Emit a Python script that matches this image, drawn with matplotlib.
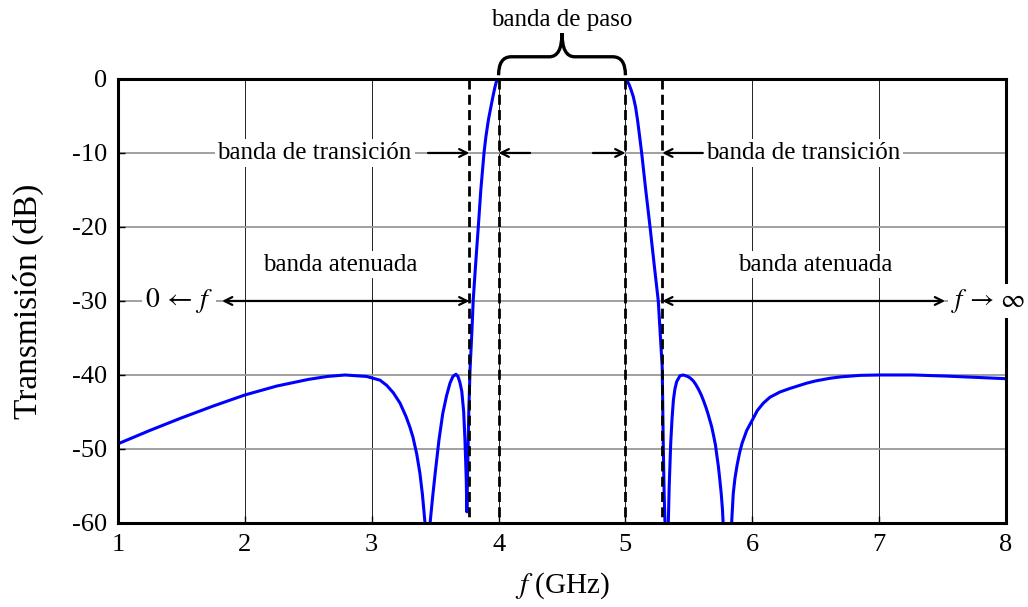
import numpy as np
import matplotlib
matplotlib.use('Agg')
import matplotlib.pyplot as plt
from matplotlib.path import Path
from matplotlib.patches import PathPatch

plt.rcParams['font.family'] = ['Liberation Serif', 'DejaVu Serif']
plt.rcParams['mathtext.fontset'] = 'stix'
plt.rcParams['axes.unicode_minus'] = False

# transmission curve (GHz, dB)
freq = [1.0, 1.25, 1.5, 1.75, 2.0, 2.25, 2.5, 2.65, 2.79, 2.96, 3.065, 3.118,
        3.17, 3.223, 3.27, 3.30, 3.325, 3.355, 3.38, 3.40, 3.42, 3.44, 3.46,
        3.48, 3.50, 3.53, 3.56, 3.59, 3.617, 3.64, 3.664, 3.68, 3.695, 3.71,
        3.725, 3.735, 3.745, 3.75, 3.755, 3.765, 3.775, 3.79, 3.80, 3.82, 3.84,
        3.86, 3.885, 3.90, 3.92, 3.946, 3.96, 3.97, 3.98, 3.99, 4.0, 4.5, 5.0,
        5.015, 5.03, 5.045, 5.062, 5.08, 5.095, 5.11, 5.128, 5.16, 5.194, 5.226,
        5.259, 5.29, 5.294, 5.298, 5.305, 5.312, 5.325, 5.338, 5.345, 5.357,
        5.367, 5.378, 5.39, 5.404, 5.43, 5.456, 5.49, 5.51, 5.535, 5.555, 5.575,
        5.595, 5.614, 5.635, 5.65, 5.665, 5.68, 5.695, 5.71, 5.72, 5.733, 5.745,
        5.755, 5.765, 5.77, 5.80, 5.837, 5.85, 5.863, 5.88, 5.90, 5.92, 5.956,
        6.0, 6.04, 6.087, 6.14, 6.218, 6.3, 6.43, 6.5, 6.61, 6.7, 6.85, 7.0,
        7.27, 7.53, 7.8, 8.0]
trans = [-49.3, -47.5, -45.8, -44.2, -42.7, -41.5, -40.6, -40.2, -40.0, -40.2,
         -40.7, -41.4, -42.4, -43.8, -45.6, -47.0, -48.4, -50.7, -53.3, -56.2,
         -60.0, -75.0, -60.0, -56.5, -53.3, -48.8, -45.2, -42.8, -41.1, -40.2,
         -39.9, -40.2, -41.0, -42.2, -45.0, -48.8, -54.0, -58.5, -54.0, -45.0,
         -39.3, -34.0, -29.9, -24.8, -20.0, -15.0, -10.0, -7.8, -5.5, -3.2,
         -2.0, -1.2, -0.5, -0.1, 0.0, 0.0, 0.0, -0.3, -0.8, -1.5, -2.4, -3.8,
         -5.5, -7.5, -10.0, -15.0, -20.0, -25.0, -30.0, -39.0, -44.0, -49.2,
         -56.0, -60.0, -72.0, -60.0, -55.0, -49.2, -46.0, -43.4, -41.9, -40.9,
         -40.1, -40.0, -40.2, -40.4, -40.8, -41.3, -41.9, -42.6, -43.4, -44.4,
         -45.2, -46.1, -47.0, -48.2, -49.5, -50.8, -52.4, -54.3, -56.0, -58.2,
         -60.0, -75.0, -60.0, -56.0, -54.0, -52.2, -50.5, -49.2, -47.5, -46.1,
         -44.8, -43.8, -43.0, -42.3, -41.8, -41.1, -40.8, -40.45, -40.25,
         -40.05, -40.0, -40.0, -40.15, -40.35, -40.5]

# band edges (GHz)
f_stop_lo, f_pass_lo, f_pass_hi, f_stop_hi = 3.77, 4.0, 5.0, 5.29

xticks = [1, 2, 3, 4, 5, 6, 7, 8]
yticks = [0, -10, -20, -30, -40, -50, -60]

fig = plt.figure(figsize=(10.28, 6.07), dpi=100)
ax = fig.add_axes([0.1148, 0.1384, 0.8638, 0.7315])

ax.set_xlim(1, 8)
ax.set_ylim(-60, 0)
ax.set_xticks(xticks)
ax.set_yticks(yticks)
ax.tick_params(direction='in', labelsize=19, length=5, width=1, pad=8)
for s in ax.spines.values():
    s.set_linewidth(2.2)
    s.set_zorder(4)

for x in xticks[1:-1]:
    ax.axvline(x, color='#222222', lw=0.7, zorder=0)
for y in yticks[1:-1]:
    ax.axhline(y, color='#999999', lw=1.3, zorder=0)

ax.plot(freq, trans, color='#0000ff', lw=2.2, zorder=3)

for fx in [f_stop_lo, f_pass_lo, f_pass_hi, f_stop_hi]:
    ax.plot([fx, fx], [0, -60], color='black', lw=2.0, dashes=(3.6, 1.9), zorder=3)

ax.set_xlabel('$f$ (GHz)', fontsize=21, labelpad=10)
ax.set_ylabel('Transmisión (dB)', fontsize=24, labelpad=20)

box = dict(facecolor='white', edgecolor='none', pad=2)
arr = dict(arrowstyle='->', lw=1.6, color='black', shrinkA=0, shrinkB=0,
           mutation_scale=14)
darr = dict(arrowstyle='<->', lw=1.6, color='black', shrinkA=0, shrinkB=0,
            mutation_scale=14)

# pass band brace
mid = (f_pass_lo + f_pass_hi) / 2
yb, ym, yt = 0.5, 3.0, 6.2
verts = [(f_pass_lo, yb), (f_pass_lo, ym), (f_pass_lo + 0.1, ym),
         (mid - 0.1, ym), (mid, ym), (mid, yt),
         (mid, ym), (mid + 0.1, ym), (f_pass_hi - 0.1, ym),
         (f_pass_hi, ym), (f_pass_hi, yb)]
codes = [Path.MOVETO, Path.CURVE3, Path.CURVE3, Path.LINETO, Path.CURVE3,
         Path.CURVE3, Path.CURVE3, Path.CURVE3, Path.LINETO, Path.CURVE3,
         Path.CURVE3]
ax.add_patch(PathPatch(Path(verts, codes), fill=False, lw=2.4, color='black',
                       clip_on=False, zorder=5))
ax.text(mid, 8.0, 'banda de paso', ha='center', va='center', fontsize=18)

# transition bands
ax.text(2.55, -10, 'banda de transición', ha='center', va='center',
        fontsize=18, bbox=box, zorder=4)
ax.text(6.40, -10, 'banda de transición', ha='center', va='center',
        fontsize=18, bbox=box, zorder=4)
ax.annotate('', xy=(f_stop_lo, -10), xytext=(3.444, -10), arrowprops=arr, zorder=4)
ax.annotate('', xy=(f_pass_lo, -10), xytext=(4.248, -10), arrowprops=arr, zorder=4)
ax.annotate('', xy=(f_pass_hi, -10), xytext=(4.744, -10), arrowprops=arr, zorder=4)
ax.annotate('', xy=(f_stop_hi, -10), xytext=(5.61, -10), arrowprops=arr, zorder=4)

# stop bands
ax.text(2.75, -25.1, 'banda atenuada', ha='center', va='center',
        fontsize=18, bbox=box, zorder=4)
ax.text(6.50, -25.1, 'banda atenuada', ha='center', va='center',
        fontsize=18, bbox=box, zorder=4)
ax.annotate('', xy=(1.82, -30), xytext=(f_stop_lo, -30), arrowprops=darr, zorder=4)
ax.annotate('', xy=(7.52, -30), xytext=(f_stop_hi, -30), arrowprops=darr, zorder=4)
ax.text(1.48, -30, r'$0\,\leftarrow\,f$', ha='center', va='center',
        fontsize=20, bbox=box, zorder=6)
ax.text(7.855, -30, r'$f\,\rightarrow\,\infty$', ha='center', va='center',
        fontsize=19, bbox=box, zorder=6, clip_on=False)

fig.savefig('out.png', dpi=100)
